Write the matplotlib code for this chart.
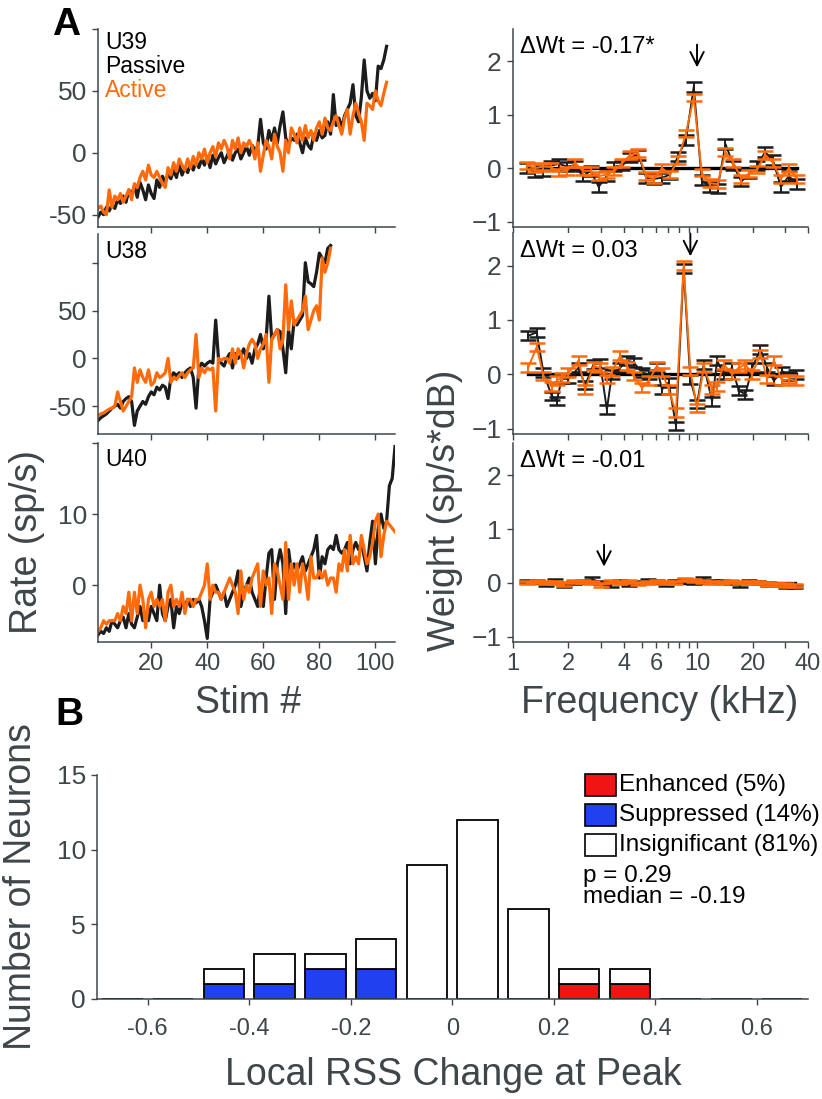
import numpy as np
import matplotlib
matplotlib.use('Agg')
import matplotlib.pyplot as plt
from matplotlib.patches import Rectangle
from matplotlib.ticker import NullFormatter

plt.rcParams['font.family'] = ['Liberation Sans', 'DejaVu Sans']

# ---------------- data: panel A, left column (rate per stimulus) ----------------
# U39
p39 = [-52, -48, -50, -44, -47, -42, -45, -38, -41, -35,
       -40, -30, -34, -27, -36, -24, -30, -38, -26, -33,
       -37, -22, -28, -19, -24, -17, -21, -14, -20, -10,
       -18, -12, -16, -9, -14, -7, -12, -5, -10, -3,
       -12, -2, -9, -4, 0, -8, -3, 2, -6, 0,
       3, -5, 0, 5, -2, 6, 2, 5, 27, 8,
       3, 18, 10, 20, 8, 22, 33, 12, 6, 12,
       10, 15, 8, 0, 12, 6, 3, 15, 10, 18,
       12, 14, 25, 15, 47, 22, 28, 20, 30, 35,
       40, 55, 30, 25, 45, 75, 50, 44, 48, 42,
       70, 68, 75, 86]
a39 = [-45, -43, -48, -50, -30, -44, -35, -38, -33, -40,
       -35, -30, -38, -25, -28, -20, -15, -22, -10, -18,
       -20, -15, -20, -25, -28, -12, -18, -8, -15, -5,
       -10, -14, -5, -12, -3, -10, 0, -5, 3, -8,
       0, 5, -3, 8, 3, 10, 5, -5, 10, 3,
       12, 0, 8, 5, 10, 5, -5, 8, -15, -2,
       10, 5, -5, 15, 5, 0, -15, 10, 0, 20,
       15, 8, 20, 10, 22, 12, 18, 10, 20, 25,
       15, 28, 20, 18, 25, 30, 22, 15, 28, 35,
       15, 30, 40, 32, 25, 10, 40, 38, 35, 50,
       42, 38, 48, 57]
# U38
p38 = [-65, -62, -60, -58, -55, -52, -50, -48, -52, -45,
       -42, -40, -45, -70, -55, -50, -45, -48, -40, -35,
       -38, -30, -33, -28, -30, -42, -20, -15, -18, -15,
       -20, -15, -12, -10, -20, -52, -10, -5, -8, -5,
       -3, -5, 40, 0, -5, -8, 0, 5, -10, 5,
       0, 3, 10, 0, 5, -5, 10, 15, 25, 10,
       20, 65, 20, 25, 30, 28, 10, -15, 30, 10,
       40, 35, 40, 45, 100, 80, 78, 75, 90, 110,
       105, 100, 115, 118]
a38 = [-60, -58, -57, -55, -53, -52, -50, -35, -45, -55,
       -50, -45, -40, -10, -25, -12, -20, -25, -12, -28,
       -25, -15, -20, -18, -15, 0, -25, -20, -22, -18,
       -15, -20, -15, -12, -10, 25, -20, -10, -15, -10,
       -12, -10, -55, 0, -2, 0, 0, -5, 10, -5,
       10, 5, -10, 5, 15, 20, 15, 0, 10, 15,
       25, -25, 20, 25, 30, 10, 20, 77, 30, 60,
       35, 40, 45, 50, 65, 30, 40, 50, 55, 40,
       105, 90, 100, 115]
# U40
p40 = [-7, -6.5, -6.8, -6, -6.5, -5, -5.5, -6, -5, -4.5,
       -6, -4, -5.5, -6, -4.5, -3, -5, -4.5, -5, -3,
       -4, -5, 0, -4, -5, -3, -2, -6, -3, -4,
       -2.5, -3, -2, -3, -2, -2.5, -2, -3, -5, -7.5,
       -2, -1, 0, -1, -2, -1, -3, -2, -1, 0,
       2, -3, -1, 0, 1, -1, -2, -3, 0, -3,
       1, 4.5, 5, -2, 3, 5, 3, -4, 5, 2,
       3, 2, 3, 4, 2, 3, 4, 5, 7, 1,
       4, 3, 5, 5.5, 5, 7, 5, 4.5, 5, 6,
       3, 5, 6, 5, 6, 4, 2, 6, 9, 3,
       8, 10, 8, 9, 14, 15, 19.5]
a40 = [-6.5, -6, -5, -5.5, -5, -5, -5, -4, -5, -3,
       -4, -1, -5, -1, -4, 0, -2, -6, -2, -1,
       -3, -2, -3, -2, -5, -1, 0, -3, -2, -3,
       -1, -4, -2, -2, -3, -2, -2, -1, 0, 3,
       -2, 0, -1, -1, -2, -1, 0, 1, 0, -1,
       -4, 2, -2, 0, -1, 1, 2, 3, -3, 2,
       0, 1, -4, 3, 2, 0, -2, 6, -2, 3,
       0, 3, -1, 3, 1, -2, 4, 1, 1, 2,
       1, 2, 0, 1, 1, -1, 3, 2, 5, 2,
       7, 3, 4, 3, 7, 5, 3, 4, 6, 9,
       10, 4, 7, 9, 8.5, 8, 7.5]

unit_names = ['U39', 'U38', 'U40']

# ---------------- data: panel A, right column (weights vs frequency) ----------------
freq1 = [1.20, 1.325, 1.463, 1.615, 1.783, 1.969, 2.174, 2.40, 2.65, 2.926,
         3.23, 3.566, 3.938, 4.348, 4.80, 5.30, 5.85, 6.46, 7.13, 7.88,
         8.70, 9.60, 10.6, 11.7, 12.92, 14.27, 15.75, 17.39, 19.2, 21.2,
         23.4, 25.8, 28.5, 31.5, 34.8]
wp1 = [0.00, -0.08, -0.05, 0.05, 0.08, 0.03, 0.05, -0.15, -0.05, -0.35,
       -0.15, 0.03, 0.05, 0.20, 0.25, -0.18, -0.20, -0.18, -0.12, 0.22,
       0.52, 1.52, -0.22, -0.35, -0.38, 0.45, 0.05, -0.25, -0.10, 0.05,
       0.30, 0.15, -0.35, -0.15, -0.30]
wa1 = [0.05, 0.00, 0.03, 0.02, -0.08, -0.05, 0.10, -0.05, -0.05, -0.15,
       -0.12, -0.05, 0.10, 0.25, 0.28, -0.15, -0.20, 0.00, -0.12, 0.15,
       0.65, 1.32, -0.08, -0.28, -0.30, 0.30, 0.10, -0.20, -0.10, -0.03,
       0.25, 0.10, -0.20, 0.00, -0.20]

freq2 = [1.216, 1.35, 1.468, 1.629, 1.734, 1.846, 2.007, 2.275, 2.473, 2.745,
         2.983, 3.243, 3.452, 3.831, 4.165, 4.527, 5.025, 5.462, 6.061, 6.452,
         7.015, 7.689, 8.46, 9.2, 10.0, 10.87, 12.07, 12.85, 13.96, 15.5,
         16.84, 18.31, 19.9, 22.09, 24.01, 26.11, 28.97, 31.5, 34.23]
wp2 = [0.71, 0.77, 0.03, -0.40, -0.49, -0.08, -0.09, 0.12, -0.20, 0.18,
       0.20, -0.65, 0.00, 0.12, 0.25, 0.22, 0.03, 0.00, 0.12, -0.28,
       -0.15, -0.95, 1.95, -0.10, -0.55, 0.18, -0.50, 0.25, 0.00, 0.12,
       -0.30, -0.37, 0.12, 0.46, 0.12, -0.12, 0.06, -0.03, 0.00]
wa2 = [0.13, 0.50, -0.03, -0.22, -0.12, -0.06, 0.03, 0.25, -0.28, 0.15,
       0.12, -0.09, 0.05, 0.34, 0.15, -0.03, -0.25, -0.12, 0.15, 0.04,
       -0.28, -0.70, 2.00, 0.06, -0.62, 0.12, -0.28, -0.22, 0.18, 0.00,
       0.12, 0.18, 0.00, 0.37, -0.09, 0.25, -0.12, -0.09, -0.12]

freq3 = [1.20, 1.347, 1.512, 1.697, 1.905, 2.138, 2.40, 2.694, 3.024, 3.394,
         3.81, 4.276, 4.80, 5.388, 6.048, 6.788, 7.62, 8.553, 9.60, 10.78,
         12.10, 13.58, 15.24, 17.11, 19.2, 21.55, 24.19, 27.15, 30.48, 34.21]
wp3 = [0.02, 0.03, -0.02, 0.04, -0.05, 0.00, 0.03, 0.07, 0.00, -0.04,
       0.03, -0.03, 0.00, 0.04, 0.02, -0.02, 0.03, 0.05, 0.00, 0.08,
       0.03, 0.02, 0.00, -0.04, 0.03, 0.00, -0.02, -0.03, -0.06, -0.07]
wa3 = [0.00, 0.02, 0.00, 0.01, -0.02, 0.02, 0.03, 0.00, -0.04, 0.02,
       0.00, 0.02, -0.01, 0.00, 0.03, 0.00, 0.01, 0.06, 0.04, 0.03,
       0.01, 0.00, 0.02, 0.00, 0.01, 0.00, -0.02, -0.03, -0.04, -0.05]

err_passive = [0.09, 0.08, 0.03]
err_active = [0.07, 0.08, 0.03]
delta_wt = ['-0.17*', '0.03', '-0.01']
peak_freq = [10.0, 9.2, 3.13]
arrow_top = [2.36, 2.64, 0.76]
arrow_tip = [1.83, 2.12, 0.25]

# ---------------- data: panel B histogram ----------------
bin_centers = [-0.65, -0.55, -0.45, -0.35, -0.25, -0.15, -0.05, 0.05, 0.15, 0.25, 0.35, 0.45, 0.55, 0.65]
n_total = [0, 0, 2, 3, 3, 4, 9, 12, 6, 2, 2, 0, 0, 0]
n_suppressed = [0, 0, 1, 1, 2, 2, 0, 0, 0, 0, 0, 0, 0, 0]
n_enhanced = [0, 0, 0, 0, 0, 0, 0, 0, 0, 1, 1, 0, 0, 0]
legend_labels = ['Enhanced (5%)', 'Suppressed (14%)', 'Insignificant (81%)']
stats_text = ['p = 0.29', 'median = -0.19']

# ---------------- style ----------------
W, H = 822, 1099
ORANGE = '#ff6a0a'
DARK = '#1c1c1c'
GRAY = '#3e464a'
BLUE = '#2141f0'
RED = '#f21414'
YTICK_FS = 19
XTICK_FS = 17
LABEL_FS = 27
NOTE_FS = 16.5


def box(x0, y0, x1, y1):
    return [x0 / W, 1 - y1 / H, (x1 - x0) / W, (y1 - y0) / H]


def style_axes(ax):
    for s in ['top', 'right']:
        ax.spines[s].set_visible(False)
    for s in ['left', 'bottom']:
        ax.spines[s].set_color(GRAY)
        ax.spines[s].set_linewidth(1.1)
    ax.tick_params(which='both', direction='out', length=4, width=1.0,
                   colors=GRAY, labelcolor=GRAY, pad=4)
    ax.tick_params(axis='y', labelsize=YTICK_FS)
    ax.tick_params(axis='x', labelsize=XTICK_FS)


fig = plt.figure(figsize=(W / 100, H / 100), dpi=100)

left_boxes = [(98, 29, 395, 227), (98, 234, 395, 434), (98, 443, 395, 642)]
right_boxes = [(512.7, 29, 808, 227), (512.7, 233, 808, 434), (512.7, 443, 808, 642)]

rates = [(p39, a39), (p38, a38), (p40, a40)]
ylims = [(-60, 100), (-79, 130), (-8, 20)]
yticks = [[-50, 0, 50, 100], [-50, 0, 50, 100], [0, 10, 20]]
yticklabels = [['-50', '0', '50', ''], ['-50', '0', '50', ''], ['0', '10', '']]

for i in range(3):
    ax = fig.add_axes(box(*left_boxes[i]))
    style_axes(ax)
    p, a = rates[i]
    ax.plot(np.arange(1, len(p) + 1), p, color=DARK, lw=2.3)
    ax.plot(np.arange(1, len(a) + 1), a, color=ORANGE, lw=2.3)
    ax.set_xlim(1, 107)
    ax.set_ylim(*ylims[i])
    ax.set_xticks([20, 40, 60, 80, 100])
    ax.set_yticks(yticks[i])
    ax.set_yticklabels(yticklabels[i])
    if i < 2:
        ax.set_xticklabels([])
    if i == 0:
        # unit name and legend words stacked in the corner
        ax.text(0.024, 0.93, unit_names[i], transform=ax.transAxes, fontsize=NOTE_FS,
                color='k', va='center', ha='left')
        ax.text(0.024, 0.809, 'Passive', transform=ax.transAxes, fontsize=NOTE_FS,
                color='k', va='center', ha='left')
        ax.text(0.024, 0.688, 'Active', transform=ax.transAxes, fontsize=NOTE_FS,
                color=ORANGE, va='center', ha='left')
    else:
        ax.text(0.024, 0.915, unit_names[i], transform=ax.transAxes, fontsize=NOTE_FS,
                color='k', va='center', ha='left')

weights = [(freq1, wp1, wa1), (freq2, wp2, wa2), (freq3, wp3, wa3)]
for i in range(3):
    ax = fig.add_axes(box(*right_boxes[i]))
    style_axes(ax)
    f, wp, wa = weights[i]
    ax.plot([f[0], f[-1]], [0, 0], color='k', lw=2.4, zorder=1)
    ax.errorbar(f, wp, yerr=err_passive[i], color=DARK, lw=1.4, capsize=6,
                capthick=1.8, elinewidth=1.4, zorder=2)
    ax.errorbar(f, wa, yerr=err_active[i], color=ORANGE, lw=1.4, capsize=6,
                capthick=1.8, elinewidth=1.4, zorder=3)
    ax.set_xscale('log')
    ax.set_xlim(1, 40)
    ax.set_ylim(-1.1, 2.6)
    ax.set_yticks([-1, 0, 1, 2])
    ax.set_xticks([1, 2, 4, 6, 10, 20, 40])
    ax.set_xticks([3, 5, 7, 8, 9, 30], minor=True)
    ax.xaxis.set_minor_formatter(NullFormatter())
    if i == 2:
        ax.set_xticklabels(['1', '2', '4', '6', '10', '20', '40'])
    else:
        ax.set_xticklabels([])
    ax.text(0.025, 0.91, '\u0394Wt = ' + delta_wt[i], transform=ax.transAxes,
            fontsize=NOTE_FS + 0.5, color='k', va='center', ha='left')
    ax.annotate('', xy=(peak_freq[i], arrow_tip[i]), xytext=(peak_freq[i], arrow_top[i]),
                arrowprops=dict(arrowstyle='->', color='k', lw=1.4, mutation_scale=24),
                annotation_clip=False)

# shared labels of panel A
fig.text(27 / W, 1 - 542 / H, 'Rate (sp/s)', rotation=90, fontsize=LABEL_FS,
         color=GRAY, ha='center', va='center')
fig.text(445 / W, 1 - 510 / H, 'Weight (sp/s*dB)', rotation=90, fontsize=LABEL_FS,
         color=GRAY, ha='center', va='center')
fig.text(248 / W, 1 - 713 / H, 'Stim #', fontsize=LABEL_FS, color=GRAY,
         ha='center', va='baseline')
fig.text(660 / W, 1 - 713 / H, 'Frequency (kHz)', fontsize=LABEL_FS, color=GRAY,
         ha='center', va='baseline')
fig.text(52 / W, 1 - 35 / H, 'A', fontsize=28, fontweight='bold', color='k',
         ha='left', va='baseline')
fig.text(55 / W, 1 - 725 / H, 'B', fontsize=28, fontweight='bold', color='k',
         ha='left', va='baseline')

# ---------------- panel B ----------------
axb = fig.add_axes(box(97, 775, 807.5, 999))
style_axes(axb)
axb.tick_params(axis='x', pad=10)
n_white = np.array(n_total) - np.array(n_suppressed) - np.array(n_enhanced)
n_colored = np.array(n_suppressed) + np.array(n_enhanced)
colors = [BLUE if s > 0 else (RED if e > 0 else 'white')
          for s, e in zip(n_suppressed, n_enhanced)]
axb.bar(bin_centers, n_colored, width=0.08, color=colors, edgecolor='k', lw=1.3, zorder=2)
axb.bar(bin_centers, n_white, width=0.08, bottom=n_colored, color='white',
        edgecolor='k', lw=1.3, zorder=2)
axb.set_xlim(-0.7, 0.7)
axb.set_ylim(0, 15)
axb.set_yticks([0, 5, 10, 15])
axb.set_xticks([-0.6, -0.4, -0.2, 0, 0.2, 0.4, 0.6])
axb.set_xticklabels(['-0.6', '-0.4', '-0.2', '0', '0.2', '0.4', '0.6'])
axb.spines['bottom'].set_zorder(3)

fig.text(21 / W, 1 - 887 / H, 'Number of Neurons', rotation=90, fontsize=LABEL_FS,
         color=GRAY, ha='center', va='center')
fig.text(453 / W, 1 - 1085 / H, 'Local RSS Change at Peak', fontsize=LABEL_FS,
         color=GRAY, ha='center', va='baseline')

# legend drawn by hand: swatch boxes plus labels
swatch_colors = [RED, BLUE, 'white']
for k in range(3):
    y0 = 774 + 30 * k
    fig.add_artist(Rectangle((584.7 / W, 1 - (y0 + 22) / H), 31.3 / W, 22 / H,
                             transform=fig.transFigure, facecolor=swatch_colors[k],
                             edgecolor='k', lw=1.2))
    fig.text(619 / W, 1 - (y0 + 11) / H, legend_labels[k], fontsize=17.5, color='k',
             ha='left', va='center')
fig.text(583 / W, 1 - 876 / H, stats_text[0], fontsize=17.5, color='k', ha='left', va='center')
fig.text(583 / W, 1 - 897 / H, stats_text[1], fontsize=17.5, color='k', ha='left', va='center')

fig.savefig('out.png', dpi=100)
